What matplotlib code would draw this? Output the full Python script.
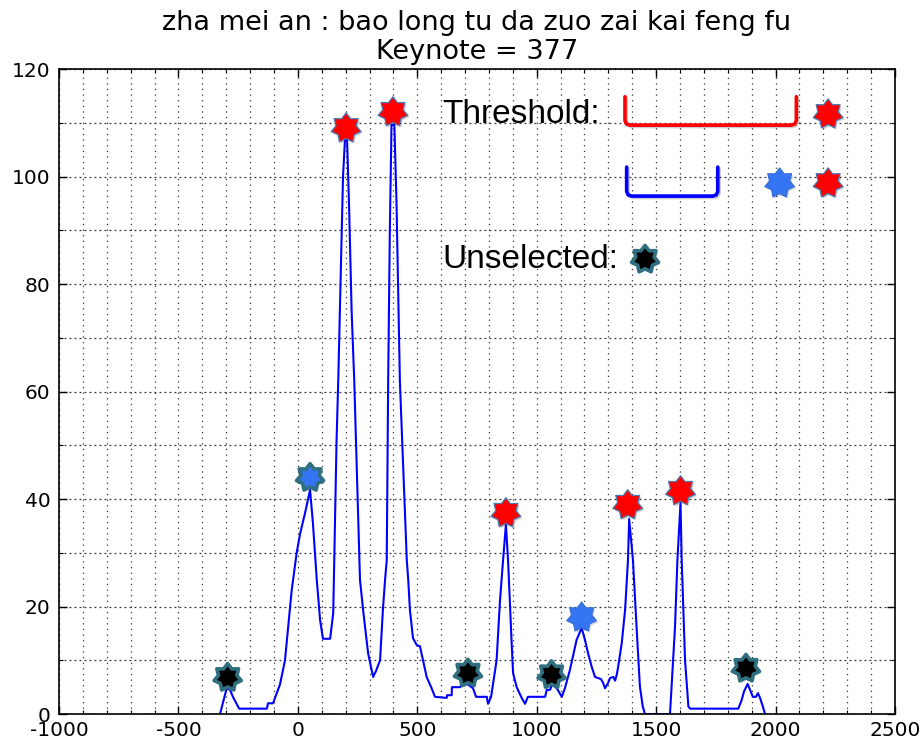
import numpy as np
import matplotlib
matplotlib.use("Agg")
import matplotlib.pyplot as plt
from matplotlib.path import Path
from matplotlib import patheffects as pe
from matplotlib.ticker import MultipleLocator

# ---------------- data ----------------
title_line1 = "zha mei an : bao long tu da zuo zai kai feng fu"
title_line2 = "Keynote = 377"

curve_x = [-326, -298, -284, -272, -246, -130, -125, -104, -75, -54, -41, -26, -5, 9, 30, 51,
           63, 79, 93, 105, 135, 148, 162, 169, 181, 189, 197, 206, 214, 225, 236, 260, 273,
           294, 315, 327, 344, 356, 365, 372, 378, 385, 392, 404, 413, 427, 456, 462, 469,
           482, 498, 511, 524, 539, 560, 574, 623, 625, 644, 645, 679, 691, 712, 733, 746,
           791, 796, 809, 832, 846, 859, 871, 880, 895, 901, 916, 937, 951, 963, 1035, 1042,
           1056, 1064, 1084, 1105, 1118, 1139, 1167, 1188, 1202, 1215, 1230, 1244, 1269, 1278,
           1286, 1298, 1307, 1321, 1328, 1335, 1341, 1356, 1370, 1382, 1387, 1403, 1418, 1432,
           1444, 1453, 1558, 1579, 1589, 1602, 1607, 1621, 1635, 1642, 1844, 1858, 1868, 1883,
           1893, 1905, 1918, 1926, 1935, 1946, 1956]
curve_y = [0, 4.8, 4.5, 3.2, 1, 1, 2, 2, 5.5, 10, 16, 23, 30, 33.5, 37.4, 41.7,
           35.5, 25, 17.5, 14, 14, 18.8, 51, 62, 85, 100, 106.8, 106.8, 95, 75, 62, 25, 19.4,
           11.3, 6.9, 8, 10, 19.4, 25, 28.6, 62, 90, 109.6, 109.6, 95, 62, 28.6, 25, 19.4,
           14.1, 12.8, 12.6, 10, 6.9, 4.8, 3.2, 3, 3.5, 3.5, 5, 5, 5.8, 5.5, 4.8, 3.2,
           3.2, 1.9, 3.2, 10, 21, 28.6, 35.2, 28.6, 13.2, 7.6, 5, 3, 1.9, 3.2, 3.2, 4.5,
           4.5, 5.5, 4.8, 3.2, 4.8, 8.2, 13.8, 16, 13.8, 11.3, 8.8, 6.9, 6.5, 5.8,
           4.8, 5.7, 6.7, 6.9, 6.2, 7.3, 8.8, 13.2, 19.4, 28.6, 36.3, 28.6, 16.2, 5.1,
           1.4, 0, 0, 16.2, 28.6, 39.3, 28.6, 10, 1.4, 1, 1, 2.6, 4.2, 5.6,
           4.5, 3.2, 3.2, 3.9, 3, 1.5, 0]

red_x = [202, 398, 871, 1381, 1602]
red_y = [109, 112, 37.4, 38.9, 41.5]
blue_x = [51, 1188]
blue_y = [44, 18]
black_x = [-294, 712, 1062, 1876]
black_y = [6.8, 7.6, 7.3, 8.5]

xticks = [-1000, -500, 0, 500, 1000, 1500, 2000, 2500]
yticks = [0, 20, 40, 60, 80, 100, 120]
xtick_labels = ["-1000", "-500", "0", "500", "1000", "1500", "2000", "2500"]

legend_threshold = "Threshold:"
legend_unselected = "Unselected:"

# ---------------- styling ----------------
RED = "#ff0000"
BLUE_STAR = "#3574f2"
TEAL = "#2f6f7f"
STEEL = "#4a78b0"

star = Path.unit_regular_star(7, innerCircle=0.68)
shadow = [pe.SimplePatchShadow(offset=(1.2, -1.2), alpha=0.18), pe.Normal()]

fig = plt.figure(figsize=(9.24, 7.43), dpi=100)
ax = fig.add_axes([0.0639, 0.039, 0.9047, 0.8681])

ax.plot(curve_x, curve_y, color="#0000ff", lw=1.5, zorder=2, solid_joinstyle="round")

def stars(xs, ys, face, edge, ms, mew, transform=None, z=4):
    kw = {}
    if transform is not None:
        kw["transform"] = transform
        kw["clip_on"] = False
    ax.plot(xs, ys, linestyle="none", marker=star, markersize=ms,
            markerfacecolor=face, markeredgecolor=edge, markeredgewidth=mew,
            zorder=z, path_effects=shadow, **kw)

stars(black_x, black_y, "black", TEAL, 20, 2.6)
stars(blue_x[:1], blue_y[:1], BLUE_STAR, TEAL, 20, 2.6)
stars(blue_x[1:], blue_y[1:], BLUE_STAR, "#3a6fd0", 22, 0.8)
stars(red_x, red_y, RED, STEEL, 22, 0.9)

ax.set_xlim(xticks[0], xticks[-1])
ax.set_ylim(yticks[0], yticks[-1])
ax.set_xticks(xticks)
ax.set_xticklabels(xtick_labels)
ax.set_yticks(yticks)
ax.xaxis.set_minor_locator(MultipleLocator(100))
ax.yaxis.set_minor_locator(MultipleLocator(10))
ax.tick_params(which="both", direction="in", top=True, right=True, labelsize=14.5)
ax.tick_params(which="major", length=6, width=1)
ax.tick_params(which="minor", length=3, width=0.8)
ax.tick_params(axis="y", pad=6)
ax.tick_params(axis="x", pad=5)
ax.grid(which="major", axis="x", linestyle=(0, (1, 3.5)), color="#333333", lw=0.9)
ax.grid(which="minor", axis="x", linestyle=(0, (1, 3.5)), color="#333333", lw=0.9)
ax.grid(which="major", axis="y", linestyle=(0, (1.5, 2.5)), color="#333333", lw=0.9)
ax.grid(which="minor", axis="y", linestyle=(0, (1.5, 2.5)), color="#333333", lw=0.9)
ax.set_axisbelow(True)
for sp in ax.spines.values():
    sp.set_linewidth(1.2)
    sp.set_zorder(5)

ax.set_title(title_line1 + "\n" + title_line2, fontsize=19.5, pad=7, linespacing=1.18)

# ---------------- legend-like annotation ----------------
tr = ax.transAxes
ax.text(0.459, 0.930, legend_threshold, transform=tr, fontsize=24,
        family="Liberation Sans", va="center", ha="left", zorder=6)
ax.text(0.459, 0.705, legend_unselected, transform=tr, fontsize=24,
        family="Liberation Sans", va="center", ha="left", zorder=6)

def bracket(x0, x1, y_top, y_bot, color):
    r = 0.006
    xs = [x0, x0, x0 + r * 0.3, x0 + r, x1 - r, x1 - r * 0.3, x1, x1]
    ys = [y_top, y_bot + r * 1.2, y_bot + r * 0.3, y_bot, y_bot, y_bot + r * 0.3, y_bot + r * 1.2, y_top]
    ax.plot(xs, ys, transform=tr, color=color, lw=2.6, solid_joinstyle="round",
            solid_capstyle="round", clip_on=False, zorder=6,
            path_effects=[pe.SimpleLineShadow(offset=(1, -1), alpha=0.2), pe.Normal()])

bracket(0.677, 0.882, 0.957, 0.913, RED)
bracket(0.679, 0.788, 0.848, 0.803, "#0000ff")

stars([0.920], [0.930], RED, STEEL, 22, 0.9, transform=tr, z=7)
stars([0.920], [0.823], RED, STEEL, 22, 0.9, transform=tr, z=7)
stars([0.862], [0.823], BLUE_STAR, "#3a6fd0", 22, 0.8, transform=tr, z=7)
stars([0.701], [0.705], "black", TEAL, 20, 2.6, transform=tr, z=7)

fig.savefig("out.png", dpi=100)
